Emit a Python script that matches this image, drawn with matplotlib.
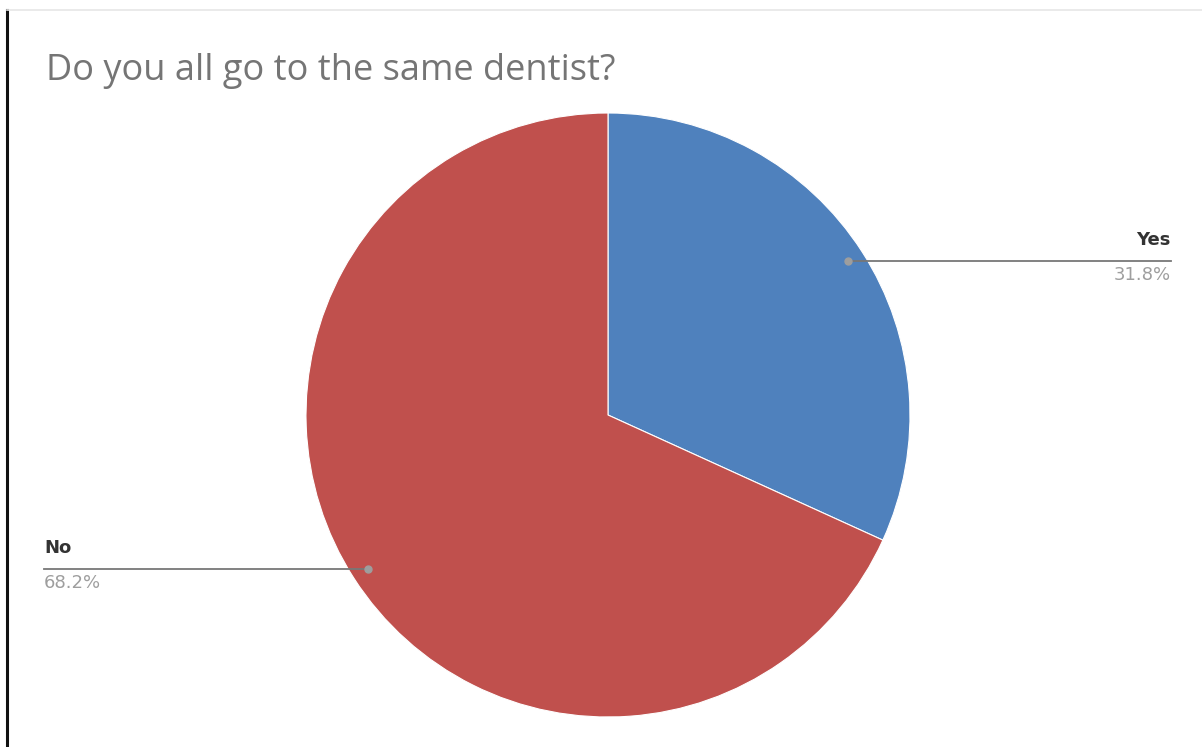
import numpy as np
import matplotlib

matplotlib.use("Agg")
import matplotlib.pyplot as plt  # noqa: E402

TITLE = "Do you all go to the same dentist?"
labels = ["Yes", "No"]
values = [31.8, 68.2]
colors = ["#4F81BD", "#C0504D"]

W, H = 1202, 747
fig = plt.figure(figsize=(W / 100, H / 100), dpi=100)
ax = fig.add_axes([0, 0, 1, 1])

# frame lines of the screenshot
ax.plot([7, 7], [0, H - 10], color="#111111", lw=2.2)
ax.plot([7, W], [H - 10, H - 10], color="#e6e6e6", lw=1.2)

cx, cy, r = 608, H - 415, 302
wedges, _ = ax.pie(values, colors=colors, startangle=90, counterclock=False,
                   center=(cx, cy), radius=r, frame=True,
                   wedgeprops=dict(edgecolor="white", linewidth=0.8))
ax.set_xlim(0, W)
ax.set_ylim(0, H)
ax.set_aspect("equal")
ax.axis("off")

ax.text(46, H - 71, TITLE, fontsize=26, color="#757575", family="Open Sans",
        va="center", ha="left")

label_x = {"Yes": 1171, "No": 44}
for w, lab, val in zip(wedges, labels, values):
    mid = np.deg2rad((w.theta1 + w.theta2) / 2)
    px = cx + 0.945 * r * np.cos(mid)
    py = cy + 0.945 * r * np.sin(mid)
    ex = label_x[lab]
    ax.plot([px, ex], [py, py], color="#777777", lw=1.3, zorder=5)
    ax.plot(px, py, "o", color="#9e9e9e", ms=5, zorder=6)
    ha = "right" if ex > cx else "left"
    ax.text(ex, py + 21, lab, ha=ha, va="center", fontsize=13,
            color="#333333", family="DejaVu Sans", fontweight="bold")
    ax.text(ex, py - 14, f"{val:.1f}%", ha=ha, va="center", fontsize=13,
            color="#9e9e9e", family="DejaVu Sans")

fig.savefig("out.png", dpi=100)
